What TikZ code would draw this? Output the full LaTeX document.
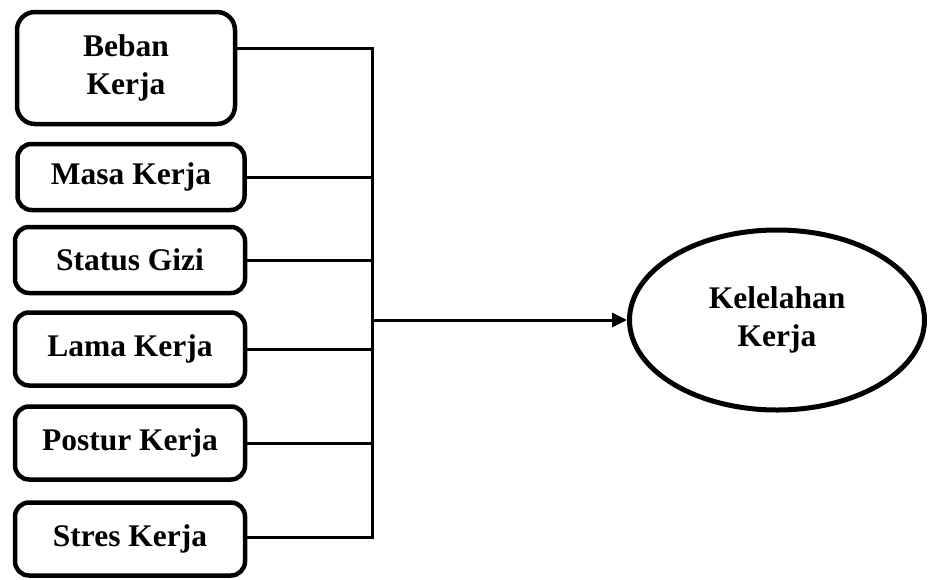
\documentclass[tikz,border=0pt]{standalone}
\usepackage{fontspec}
\setmainfont{Liberation Serif}
\usetikzlibrary{arrows.meta,shapes.geometric}
\begin{document}
\begin{tikzpicture}[x=1pt,y=-1pt,
  factor/.style={draw,line width=4.5pt,rounded corners=14pt,align=center,inner sep=0pt,
    font=\fontsize{31.5}{38}\selectfont\bfseries},
  outcome/.style={draw,ellipse,line width=5pt,align=center,inner sep=0pt,
    minimum width=295pt,minimum height=180pt,font=\fontsize{31.5}{38}\selectfont\bfseries},
  link/.style={line width=3pt},
  arrowlink/.style={line width=3pt,-{Triangle[length=15pt,width=14pt]}}]
\useasboundingbox (0,0) rectangle (928,579);
\node[factor,minimum width=218pt,minimum height=112pt,rounded corners=18pt] (b1) at (126,68) {Beban\\Kerja};
\node[factor,minimum width=227pt,minimum height=66pt] (b2) at (131,177) {Masa Kerja};
\node[factor,minimum width=230pt,minimum height=66pt] (b3) at (130,260) {Status Gizi};
\node[factor,minimum width=230pt,minimum height=73pt] (b4) at (130,349) {Lama Kerja};
\node[factor,minimum width=230pt,minimum height=73pt] (b5) at (130,443) {Postur Kerja};
\node[factor,minimum width=230pt,minimum height=73pt] (b6) at (130,539) {Stres Kerja};
\node[outcome] (out) at (777,320) {Kelelahan\\Kerja};
\coordinate (top) at (372,48);
\coordinate (bot) at (372,537);
\coordinate (hub) at (372,320);
\draw[link,line cap=rect] (top) -- (bot);
\draw[link] (b1.east |- top) -- (top);
\draw[link] (b2.east) -- (b2.east -| top);
\draw[link] (b3.east) -- (b3.east -| top);
\draw[link] (b4.east) -- (b4.east -| top);
\draw[link] (b5.east) -- (b5.east -| top);
\draw[link] (b6.east |- bot) -- (bot);
\draw[arrowlink] (hub) -- (hub -| out.west);
\end{tikzpicture}
\end{document}
